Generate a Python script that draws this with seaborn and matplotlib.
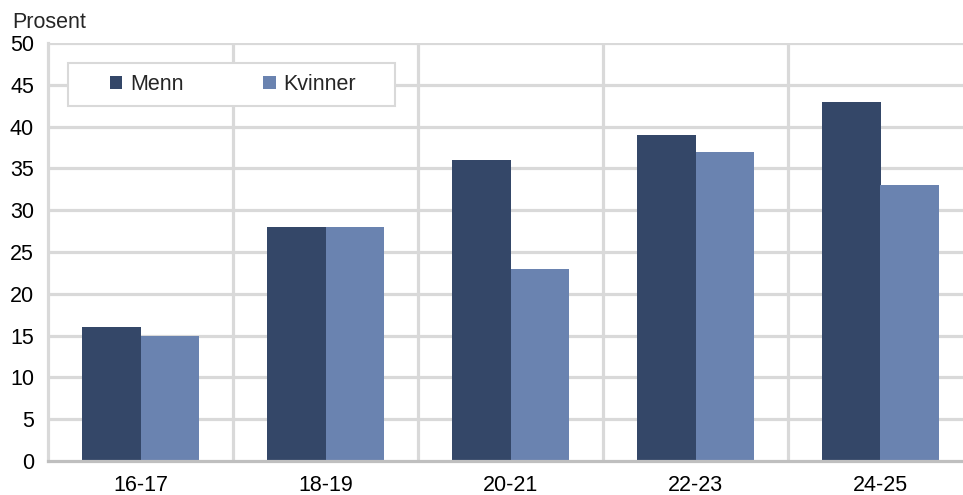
# Recreate the grouped bar chart of percent by age group and gender.

# Import pandas for building the long table.
import pandas as pd

# Import matplotlib for figure layout.
import matplotlib
matplotlib.use("Agg")
import matplotlib.pyplot as plt
from matplotlib.patches import Rectangle

# Import seaborn for the bar plot.
import seaborn as sns

# Age group categories.
age_groups = ["16-17", "18-19", "20-21", "22-23", "24-25"]

# Percent values for men.
menn = [16, 28, 36, 39, 43]

# Percent values for women.
kvinner = [15, 28, 23, 37, 33]

# Series names and colours.
series_names = ["Menn", "Kvinner"]
palette = {"Menn": "#344768", "Kvinner": "#6a83b0"}

# Y axis ticks.
y_ticks = list(range(0, 51, 5))

# Build the long-format table seaborn wants.
df = pd.DataFrame({
    "alder": age_groups * 2,
    "prosent": menn + kvinner,
    "kjonn": ["Menn"] * len(age_groups) + ["Kvinner"] * len(age_groups),
})

# Set the basic style and then the font.
sns.set_style("white")
plt.rcParams["font.family"] = ["Liberation Sans", "DejaVu Sans"]
fs = 15.5

# Create the figure at the target pixel size.
fig = plt.figure(figsize=(9.63, 4.95), dpi=100)

# Place the axes so the plot runs past the right edge like the source.
ax = fig.add_axes([48 / 963, 1 - 461 / 495, 925 / 963, 418 / 495])

# Draw the bars.
sns.barplot(data=df, x="alder", y="prosent", hue="kjonn", hue_order=series_names,
            palette=palette, width=0.63, gap=0, saturation=1, ax=ax,
            edgecolor="none", linewidth=0, zorder=3)

# Axis limits and ticks.
ax.set_ylim(0, 50)
ax.set_xlim(-0.5, len(age_groups) - 0.5)
ax.set_yticks(y_ticks)
ax.set_yticklabels([str(v) for v in y_ticks])
ax.tick_params(axis="both", length=0, labelsize=fs, colors="black")
ax.tick_params(axis="y", pad=10)
ax.tick_params(axis="x", pad=10)

# Remove the axis titles.
ax.set_xlabel("")
ax.set_ylabel("")

# Horizontal gridlines.
grid_col = "#d9d9d9"
for v in y_ticks[1:]:
    ax.axhline(v, color=grid_col, linewidth=2.3, zorder=1)

# Vertical separators between groups.
for i in range(len(age_groups)):
    ax.axvline(i + 0.5, color=grid_col, linewidth=2.3, zorder=1)

# Spines: light left, darker bottom.
for side in ["top", "right"]:
    ax.spines[side].set_visible(False)
ax.spines["left"].set_color(grid_col)
ax.spines["left"].set_linewidth(2.3)
ax.spines["bottom"].set_color("#bfbfbf")
ax.spines["bottom"].set_linewidth(2.3)
ax.spines["bottom"].set_zorder(4)

# White legend box with light frame at top left.
box = Rectangle((68 / 963, 1 - 106 / 495), 327 / 963, 43 / 495, transform=fig.transFigure,
                facecolor="white", edgecolor=grid_col, linewidth=1.5, zorder=5)
fig.add_artist(box)

# Legend entries placed inside the box.
ax.legend(loc="center left", bbox_to_anchor=(106 / 963, 1 - 84.5 / 495),
          bbox_transform=fig.transFigure, ncol=2, frameon=False,
          handlelength=0.56, handleheight=0.56, handletextpad=0.37,
          columnspacing=3.7, borderpad=0.2, borderaxespad=0, fontsize=fs)
leg = ax.get_legend()
leg.set_zorder(6)
fig.add_artist(leg)

# Unit label above the y axis.
fig.text(12 / 963, 1 - 22 / 495, "Prosent", fontsize=fs, ha="left", va="center")

# Save the chart.
fig.savefig("out.png", dpi=100)
plt.close(fig)
